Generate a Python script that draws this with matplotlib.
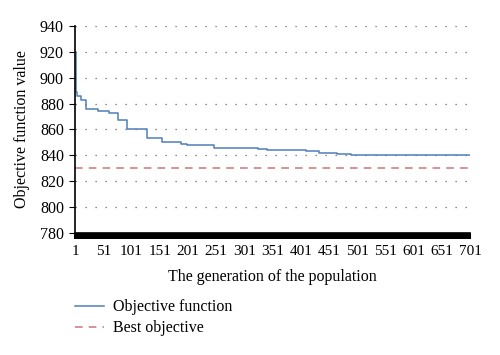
import numpy as np
import matplotlib
matplotlib.use("Agg")
import matplotlib.pyplot as plt

plt.rcParams['font.family'] = ['Liberation Serif', 'DejaVu Serif']

# Datos (escalones del valor objetivo)
generacion = [1, 2, 5, 11, 20, 41, 61, 78, 94, 129, 155, 189, 200, 248, 325, 342, 410, 434, 466, 490, 701]
valor_obj = [920, 889, 886, 883, 876, 874, 873, 867, 860, 853, 850, 849, 848, 846, 845, 844, 843, 842, 841, 840, 840]
mejor_obj = 830
x_ticks = list(range(1, 702, 50))
y_ticks = list(range(780, 941, 20))

fig = plt.figure(figsize=(5.0, 3.55), dpi=100)
ax = fig.add_axes([0.15, 0.344, 0.79, 0.583])

# Curvas
ax.plot(generacion, valor_obj, drawstyle='steps-post', color='#4f7fba', lw=1.1,
        label='Objective function')
ax.plot([x_ticks[0], x_ticks[-1] - 4], [mejor_obj, mejor_obj], '--', color='#c87777', lw=1.1,
        dashes=(5, 4), label='Best objective')

# Rejilla punteada
for yv in y_ticks[1:]:
    ax.plot([x_ticks[0], x_ticks[-1] - 6], [yv, yv], linestyle=(0, (1, 7)), color='#666666',
            lw=0.9, zorder=0)

ax.set_xlim(x_ticks[0], x_ticks[-1])
ax.set_ylim(y_ticks[0], y_ticks[-1])
ax.set_xticks(x_ticks)
ax.set_xticks(np.arange(1, 702, 1), minor=True)
ax.set_yticks(y_ticks)

ax.spines['top'].set_visible(False)
ax.spines['right'].set_visible(False)
ax.spines['left'].set_linewidth(1.2)
ax.spines['bottom'].set_linewidth(1.2)

# las marcas menores (una por generacion) forman la banda negra
ax.tick_params(axis='x', which='major', length=4, width=1.5, pad=5, labelsize=11)
ax.tick_params(axis='x', which='minor', length=4, width=1.5)
ax.tick_params(axis='y', length=4, width=0.8, pad=4, labelsize=11.5)

ax.set_xlabel('The generation of the population', fontsize=11.5, labelpad=8)
ax.set_ylabel('Objective function value', fontsize=11.5, labelpad=7)

fig.legend(loc='center left', bbox_to_anchor=(0.15, 0.105), frameon=False, fontsize=11.5,
           borderpad=0, borderaxespad=0, handlelength=1.8, handletextpad=0.6,
           labelspacing=0.3)

fig.savefig('out.png', dpi=100)
